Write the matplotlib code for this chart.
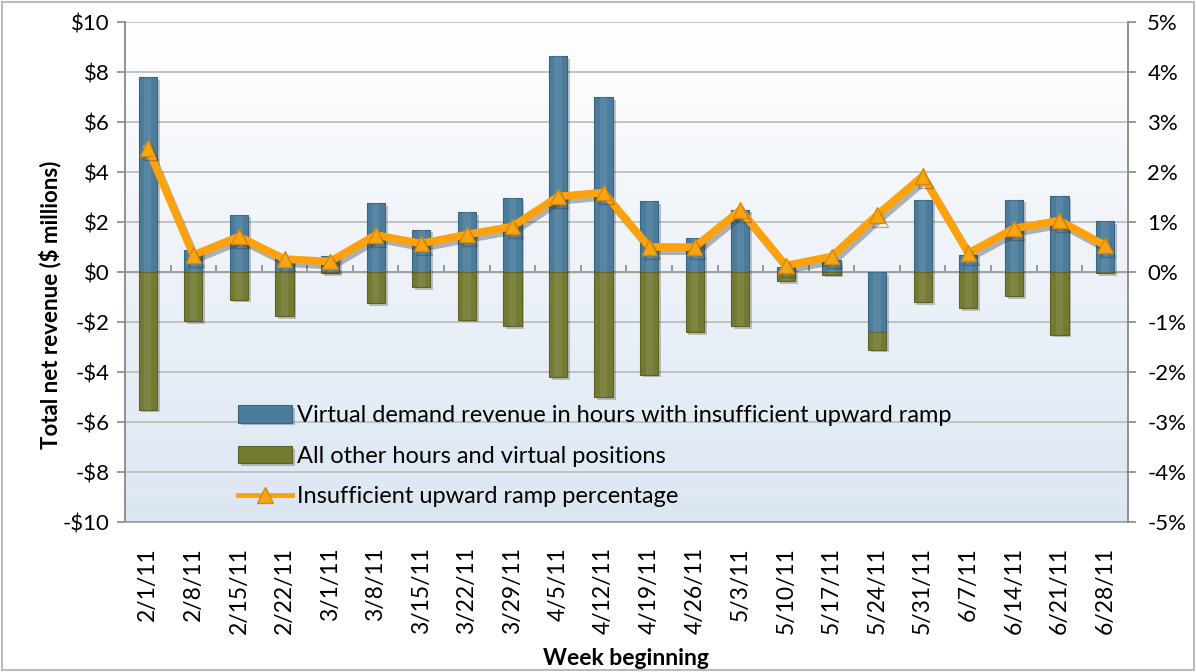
import numpy as np
import matplotlib
matplotlib.use("Agg")
import matplotlib.pyplot as plt
import matplotlib.patheffects as pe
from matplotlib.lines import Line2D
from matplotlib.ticker import FuncFormatter, MultipleLocator
from matplotlib.colors import LinearSegmentedColormap

plt.rcParams['font.family'] = ['Lato', 'DejaVu Sans']

# data
weeks = ['2/1/11', '2/8/11', '2/15/11', '2/22/11', '3/1/11', '3/8/11', '3/15/11',
         '3/22/11', '3/29/11', '4/5/11', '4/12/11', '4/19/11', '4/26/11', '5/3/11',
         '5/10/11', '5/17/11', '5/24/11', '5/31/11', '6/7/11', '6/14/11', '6/21/11',
         '6/28/11']
virtual_demand = [7.8, 0.9, 2.3, 0.6, 0.65, 2.75, 1.7, 2.4, 2.95, 8.65, 7.0, 2.85,
                  1.35, 2.5, 0.2, 0.5, -2.4, 2.9, 0.7, 2.9, 3.05, 2.05]
other_hours = [-5.5, -1.95, -1.1, -1.75, -0.05, -1.25, -0.6, -1.9, -2.15, -4.2, -5.0,
               -4.1, -2.4, -2.15, -0.35, -0.1, -0.7, -1.2, -1.45, -0.95, -2.5, -0.05]
ramp_pct = [2.48, 0.34, 0.71, 0.26, 0.21, 0.74, 0.57, 0.75, 0.91, 1.51, 1.59, 0.5,
            0.5, 1.24, 0.13, 0.31, 1.14, 1.92, 0.38, 0.87, 1.03, 0.53]

blue = '#4B7C9C'
green = '#747A32'
orange = '#FFA10A'
grid_c = '#BEBEBE'

fig = plt.figure(figsize=(11.96, 6.72), dpi=100)
ax = fig.add_axes([0.1045, 0.2232, 0.8385, 0.7440])

# background gradient white -> light blue
grad = np.linspace(0, 1, 256).reshape(-1, 1)
bg_cmap = LinearSegmentedColormap.from_list('bg', ['#DCE6F2', '#FFFFFF'])
ax.imshow(grad, aspect='auto', cmap=bg_cmap, origin='lower',
          extent=[0, 1, 0, 1], transform=ax.transAxes, zorder=0)

x = np.arange(len(weeks))
vd = np.array(virtual_demand)
oh = np.array(other_hours)
# green stacks below blue when blue is negative
oh_bottom = np.where(vd < 0, vd, 0)

shadow = [pe.SimplePatchShadow(offset=(2, -2), alpha=0.25), pe.Normal()]
ax.bar(x, vd, width=0.4, color=blue, edgecolor='#3A6580', linewidth=0.8,
       zorder=3, path_effects=shadow,
       label='Virtual demand revenue in hours with insufficient upward ramp')
ax.bar(x, oh, bottom=oh_bottom, width=0.4, color=green, edgecolor='#5C6126',
       linewidth=0.8, zorder=3, path_effects=shadow,
       label='All other hours and virtual positions')
# soft highlight in the middle of the bars
ax.bar(x, vd, width=0.16, color='white', alpha=0.08, linewidth=0, zorder=3.5)
ax.bar(x, oh, bottom=oh_bottom, width=0.16, color='white', alpha=0.08, linewidth=0, zorder=3.5)

ax.set_xlim(-0.5, len(weeks) - 0.5)
ax.set_ylim(-10, 10)
ax.yaxis.set_major_locator(MultipleLocator(2))
ax.yaxis.set_major_formatter(FuncFormatter(lambda v, p: f'${v:.0f}' if v >= 0 else f'-${-v:.0f}'))
ax.grid(axis='y', color=grid_c, linewidth=1.3, zorder=1)
ax.set_axisbelow(True)
ax.axhline(0, color='#A0A0A0', linewidth=1.3, zorder=2)

ax.set_xticks(x)
ax.set_xticklabels(weeks, rotation=90, fontsize=16.5)
ax.tick_params(axis='x', length=0, pad=18)
ax.tick_params(axis='y', labelsize=16, length=6, color='#888888', width=1.2, pad=5)

ax.spines['top'].set_visible(False)
ax.spines['right'].set_visible(False)
ax.spines['bottom'].set_color('#A0A0A0')
ax.spines['left'].set_color('#888888')
for s in ['bottom', 'left']:
    ax.spines[s].set_linewidth(1.3)

# small ticks on the zero line between categories
zero_ax = ax.secondary_xaxis(0.5)
zero_ax.set_xticks(np.arange(len(weeks) - 1) + 0.5)
zero_ax.set_xticklabels([])
zero_ax.tick_params(direction='out', length=5, color='#888888', width=1.2)
zero_ax.spines['bottom'].set_visible(False)

ax.set_ylabel('Total net revenue ($ millions)', fontsize=16, fontweight='bold')
ax.yaxis.set_label_coords(-0.063, 0.434)
ax.set_xlabel('Week beginning', fontsize=16.5, fontweight='bold', va='top')
ax.xaxis.set_label_coords(0.5, -0.252)

ax2 = ax.twinx()
ax2.set_ylim(-5, 5)
ax2.yaxis.set_major_locator(MultipleLocator(1))
ax2.yaxis.set_major_formatter(FuncFormatter(lambda v, p: f'{v:.0f}%'))
ax2.tick_params(axis='y', labelsize=16, length=6, color='#888888', width=1.2, pad=8)
ax2.spines['right'].set_color('#888888')
ax2.spines['right'].set_linewidth(1.3)
for s in ['top', 'left', 'bottom']:
    ax2.spines[s].set_visible(False)

ax2.plot(x, ramp_pct, color=orange, linewidth=5.5, marker='^', markersize=11,
         markerfacecolor='#F5A516', markeredgecolor='#D98A00', markeredgewidth=1,
         zorder=5,
         path_effects=[pe.SimpleLineShadow(offset=(2, -3), alpha=0.35, shadow_color='#333333'),
                       pe.Normal()])

h1, l1 = ax.get_legend_handles_labels()
line_handle = Line2D([], [], color=orange, linewidth=3.5, marker='^', markersize=11,
                     markerfacecolor='#F5A516', markeredgecolor='#D98A00')
leg = ax2.legend(h1 + [line_handle], l1 + ['Insufficient upward ramp percentage'],
                 loc='lower left', bbox_to_anchor=(0.1127, 0.03),
                 frameon=False, fontsize=17, handlelength=2.3, handleheight=0.75,
                 labelspacing=0.82, handletextpad=0.2, borderpad=0, borderaxespad=0)

# border around the whole picture
fig.patches.append(plt.Rectangle((0.002, 0.003), 0.996, 0.994, transform=fig.transFigure,
                                 fill=False, edgecolor='#BBBBBB', linewidth=1.5))

fig.savefig('out.png', dpi=100)
